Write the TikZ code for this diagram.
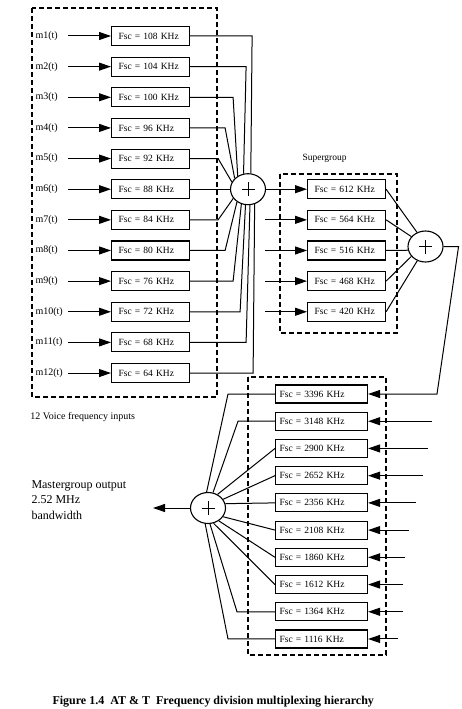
\documentclass[tikz,border=0pt]{standalone}
\usepackage{fontspec}
\setmainfont{Liberation Serif}
\usetikzlibrary{arrows.meta,shapes.geometric}
\begin{document}
\begin{tikzpicture}[x=1pt,y=-1pt,
  line width=1pt,
  fbox/.style={draw, line width=1.1pt, minimum height=19pt, inner xsep=7pt, inner ysep=0pt,
    text width=64pt, align=left, anchor=west, font=\fontsize{9.5}{11}\selectfont},
  mbox/.style={fbox, text width=84pt, inner xsep=4pt, minimum height=18pt},
  adder/.style={draw, ellipse, minimum width=35pt, minimum height=31pt, inner sep=0pt, line width=1.1pt},
  grp/.style={draw, dash pattern=on 5pt off 3pt, line width=1.1pt},
  arr/.style={-{Triangle[length=12pt,width=8pt]}},
  lbl/.style={font=\fontsize{10}{12}\selectfont, anchor=west, inner sep=0pt},
  plus/.style={line width=0.9pt},
]
\useasboundingbox (0,0) rectangle (462,709);

% dashed grouping frames
\draw[grp] (32,8) rectangle (217,397);
\draw[grp] (280,174) rectangle (397,333);
\draw[grp] (248,377) rectangle (386,655);

% adders
\node[adder] (a1) at (248,189.2) {};
\node[adder] (a2) at (425.5,246.5) {};
\node[adder] (a3) at (208,508) {};
\foreach \a in {a1,a2,a3} {
  \draw[plus] ([xshift=-6.5pt]\a.center) -- ([xshift=6.5pt]\a.center);
  \draw[plus] ([yshift=-7pt]\a.center) -- ([yshift=7pt]\a.center);
}

% group (12 voice channels)
\foreach \i/\f in {1/108, 2/104, 3/100, 4/96, 5/92, 6/88, 7/84, 8/80, 9/76, 10/72, 11/68, 12/64} {
  \pgfmathsetmacro\yy{36+30.64*(\i-1)}
  \node[lbl] (m\i) at (35,\yy) {m\i(t)};
  \coordinate (s\i) at (68,\yy);
  \node[fbox] (g\i) at (111,\yy) {Fsc = \f\ KHz};
  \draw[arr] (s\i) -- (g\i.west);
}
\foreach \i/\dx/\ang in {1/62/80, 2/56/106, 3/43/128, 4/35/141, 5/28/156,
  7/28/212, 8/35/229, 9/43/246, 10/50/261, 11/56/277, 12/63/294} {
  \draw (g\i.east) -- ++(\dx,0) -- (a1.\ang);
}
\draw (g6.east) -- (a1.west);

% supergroup
\node[lbl, font=\fontsize{9.5}{11}\selectfont] (sglabel) at (302,158) {Supergroup};
\foreach \i/\f/\ang in {6/612/121, 7/564/145, 8/516/192, 9/468/215, 10/420/240} {
  \pgfmathsetmacro\yy{36+30.64*(\i-1)}
  \node[fbox] (sg\i) at (307,\yy) {Fsc = \f\ KHz};
  \draw (sg\i.east) -- (a2.\ang);
}
\draw[arr] (a1.east) -- (sg6.west);
\foreach \i in {7,8,9,10} {
  \pgfmathsetmacro\yy{36+30.64*(\i-1)}
  \coordinate (ss\i) at (265,\yy);
  \draw[arr] (ss\i) -- (sg\i.west);
}

% mastergroup
\foreach \i/\f in {1/3396, 2/3148, 3/2900, 4/2652, 5/2356, 6/2108, 7/1860, 8/1612, 9/1364, 10/1116} {
  \pgfmathsetmacro\yy{394+27.22*(\i-1)}
  \node[mbox] (mg\i) at (275,\yy) {Fsc = \f\ KHz};
}
\foreach \i/\sx in {2/432, 3/428, 4/423, 5/416, 6/409, 7/405, 8/403, 9/403, 10/398} {
  \pgfmathsetmacro\yy{394+27.22*(\i-1)}
  \coordinate (ms\i) at (\sx,\yy);
  \draw[arr] (ms\i) -- (mg\i.east);
}
\coordinate (bend) at (437,394);
\draw[arr] (a2.east) -- ++(15,0) -- (bend) -- (mg1.east);

\draw (mg1.west) -- ++(-47,0) -- (a3.95);
\draw (mg2.west) -- ++(-37,0) -- (a3.72);
\draw (mg3.west) -- (a3.55);
\draw (mg4.west) -- (a3.30);
\draw (mg5.west) -- (a3.14);
\draw (mg6.west) -- (a3.-30);
\draw (mg7.west) -- (a3.-50);
\draw (mg8.west) -- (a3.-70);
\draw (mg9.west) -- ++(-38,0) -- (a3.-83);
\draw (mg10.west) -- ++(-47,0) -- (a3.-100);

\coordinate (out) at (153,508);
\draw[arr] (a3.west) -- (out);

% texts
\node[lbl] (vfi) at (30,417) {12 Voice frequency inputs};
\node[anchor=base west, inner sep=0pt, font=\fontsize{12}{14}\selectfont] (mo1) at (31,488) {Mastergroup output};
\node[anchor=base west, inner sep=0pt, font=\fontsize{12}{14}\selectfont] (mo2) at (31,503.5) {2.52 MHz};
\node[anchor=base west, inner sep=0pt, font=\fontsize{12}{14}\selectfont] (mo3) at (31,519) {bandwidth};
\node[anchor=base west, inner sep=0pt, font=\fontsize{12}{14}\selectfont\bfseries] (cap) at (52,704.5)
  {Figure 1.4\ \ AT \& T\ \ Frequency division multiplexing hierarchy};
\end{tikzpicture}
\end{document}
